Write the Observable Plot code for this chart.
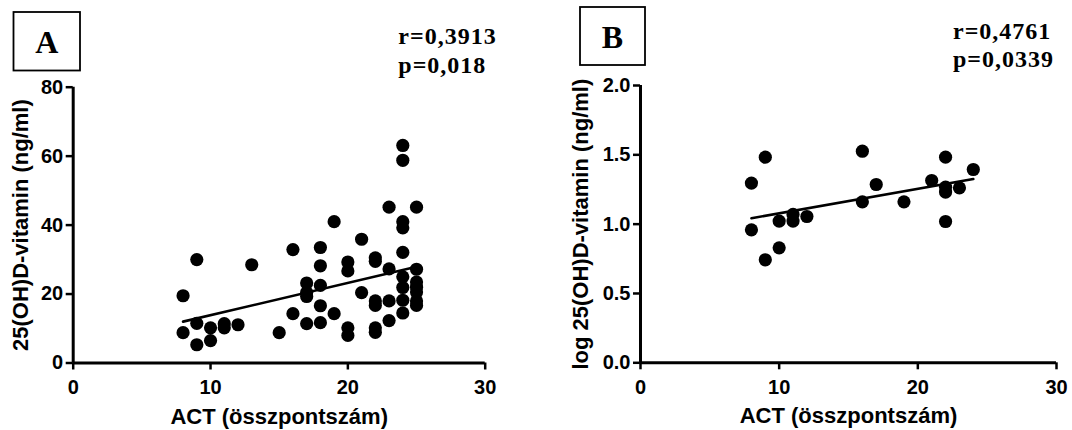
<!DOCTYPE html>
<html>
<head>
<meta charset="utf-8">
<script src="https://cdn.jsdelivr.net/npm/d3@7"></script>
<script src="https://cdn.jsdelivr.net/npm/@observablehq/plot@0.6"></script>
<style>
  html, body { margin: 0; padding: 0; background: #fff; }
  #wrap { position: relative; width: 1072px; height: 430px; background: #fff; overflow: hidden; }
  #wrap > div, #wrap > svg { position: absolute; top: 0; }
</style>
</head>
<body>
<div id="wrap">
  <div id="panelA" style="left:0"></div>
  <div id="panelB" style="left:536px"></div>
</div>
<script>
// ---------- data ----------
// Panel A: ACT score vs 25(OH)D-vitamin (ng/ml)
const actA = [8, 8, 9, 9, 9, 10, 10, 11, 11, 12, 13, 15, 16, 16,
  17, 17, 17, 17, 18, 18, 18, 18, 18, 19, 19, 20, 20, 20, 20, 21, 21,
  22, 22, 22, 22, 22, 22, 23, 23, 23, 23,
  24, 24, 24, 24, 24, 24, 24, 24, 24,
  25, 25, 25, 25, 25, 25, 25];
const vitA = [19.5, 8.8, 30.0, 11.5, 5.3, 10.2, 6.5, 11.4, 10.2, 11.1, 28.5, 8.8, 32.9, 14.3,
  23.2, 20.5, 19.3, 11.4, 33.5, 28.2, 22.5, 16.6, 11.7, 41.0, 14.3, 29.3, 26.7, 10.2, 8.0, 35.9, 20.4,
  30.5, 29.5, 18.0, 16.7, 10.2, 8.9, 45.2, 27.3, 18.0, 12.3,
  63.1, 58.8, 41.0, 39.2, 32.1, 25.0, 21.9, 18.2, 14.5,
  45.2, 27.2, 23.5, 22.0, 20.6, 18.0, 16.7];
const fitActA = [8, 25];
const fitVitA = [12.0, 27.9];

// Panel B: ACT score vs log 25(OH)D-vitamin
const actB = [8, 8, 9, 9, 10, 10, 11, 11, 12, 16, 16, 17, 19, 21, 22, 22, 22, 22, 23, 24];
const logVitB = [1.296, 0.959, 1.483, 0.743, 1.022, 0.829, 1.070, 1.022, 1.055, 1.526, 1.161, 1.286,
  1.161, 1.315, 1.483, 1.267, 1.231, 1.019, 1.262, 1.394];
const fitActB = [8, 24];
const fitVitB = [1.043, 1.325];

// ticks and texts
const xTicks = [0, 10, 20, 30];
const yTicksA = [0, 20, 40, 60, 80];
const yTicksB = [0, 0.5, 1.0, 1.5, 2.0];
const xTitle = "ACT (összpontszám)";
const yTitleA = "25(OH)D-vitamin (ng/ml)";
const yTitleB = "log 25(OH)D-vitamin (ng/ml)";
const panelLetters = ["A", "B"];
const statsA = ["r=0,3913", "p=0,018"];
const statsB = ["r=0,4761", "p=0,0339"];

// ---------- build ----------
const dataA = actA.map((a, i) => ({act: a, vit: vitA[i]}));
const fitA = fitActA.map((a, i) => ({act: a, vit: fitVitA[i]}));
const dataB = actB.map((a, i) => ({act: a, vit: logVitB[i]}));
const fitB = fitActB.map((a, i) => ({act: a, vit: fitVitB[i]}));

const sansFont = "'Liberation Sans', Arial, Helvetica, sans-serif";
const serifFont = "'Liberation Serif', 'Times New Roman', serif";

function panel({data, fit, yDomain, yTicks, yFormat, yTitle, margins, yTitleDx}) {
  return Plot.plot({
    width: 536,
    height: 430,
    ...margins,
    style: {fontFamily: sansFont, fontSize: "20px", fontWeight: "bold", color: "#000", background: "transparent"},
    x: {domain: [0, 30]},
    y: {domain: yDomain},
    marks: [
      Plot.axisX({ticks: xTicks, tickSize: 7, tickPadding: 10, strokeWidth: 2.5, label: null,
        tickFormat: d => String(d), fontSize: 20, fontWeight: "bold", fill: "#000"}),
      Plot.axisY({ticks: yTicks, tickSize: 7, tickPadding: 3, strokeWidth: 2.5, label: null,
        tickFormat: yFormat, fontSize: 20, fontWeight: "bold", fill: "#000"}),
      Plot.ruleY([yDomain[0]], {stroke: "#000", strokeWidth: 3}),
      Plot.ruleX([0], {stroke: "#000", strokeWidth: 3}),
      Plot.line(fit, {x: "act", y: "vit", stroke: "#000", strokeWidth: 2.6}),
      Plot.dot(data, {x: "act", y: "vit", r: 6.6, fill: "#000"}),
      Plot.text([xTitle], {text: d => d, frameAnchor: "bottom", dy: 45, lineAnchor: "top", textAnchor: "middle",
        fontSize: 22, fontWeight: "bold", fill: "#000"}),
      Plot.text([yTitle], {text: d => d, frameAnchor: "left", dx: yTitleDx, rotate: -90, lineAnchor: "top", textAnchor: "middle",
        fontSize: 22, fontWeight: "bold", fill: "#000"})
    ]
  });
}

document.getElementById("panelA").appendChild(panel({
  data: dataA, fit: fitA, yDomain: [0, 80], yTicks: yTicksA, yFormat: d => String(d), yTitle: yTitleA,
  margins: {marginLeft: 72.7, marginRight: 51.3, marginTop: 86.7, marginBottom: 67.5},
  yTitleDx: -61
}));

document.getElementById("panelB").appendChild(panel({
  data: dataB, fit: fitB, yDomain: [0, 2], yTicks: yTicksB, yFormat: d3.format(".1f"), yTitle: yTitleB,
  margins: {marginLeft: 104, marginRight: 16, marginTop: 85, marginBottom: 67.7},
  yTitleDx: -68.3
}));

// ---------- annotation overlay (panel letter boxes and statistics) ----------
const overlay = d3.select("#wrap").append("svg")
  .attr("width", 1072).attr("height", 430)
  .style("left", "0px").style("pointer-events", "none");

const boxes = [
  {letter: panelLetters[0], x: 13.5, y: 12, w: 66.5, h: 58.5, base: 53.3},
  {letter: panelLetters[1], x: 580, y: 7, w: 65, h: 58, base: 48.4}
];
boxes.forEach(b => {
  overlay.append("rect").attr("x", b.x).attr("y", b.y).attr("width", b.w).attr("height", b.h)
    .attr("fill", "none").attr("stroke", "#000").attr("stroke-width", 1.8);
  overlay.append("text").attr("x", b.x + b.w / 2).attr("y", b.base)
    .attr("text-anchor", "middle").attr("font-family", serifFont)
    .attr("font-weight", "bold").attr("font-size", 32).text(b.letter);
});

const stats = [
  {lines: statsA, x: 398.3, y0: 44.3, dy: 28.4},
  {lines: statsB, x: 953, y0: 39, dy: 27.7}
];
stats.forEach(s => {
  s.lines.forEach((t, i) => {
    overlay.append("text").attr("x", s.x).attr("y", s.y0 + i * s.dy)
      .attr("font-family", serifFont).attr("font-weight", "bold")
      .attr("font-size", 24).attr("letter-spacing", "1px").text(t);
  });
});
</script>
</body>
</html>
